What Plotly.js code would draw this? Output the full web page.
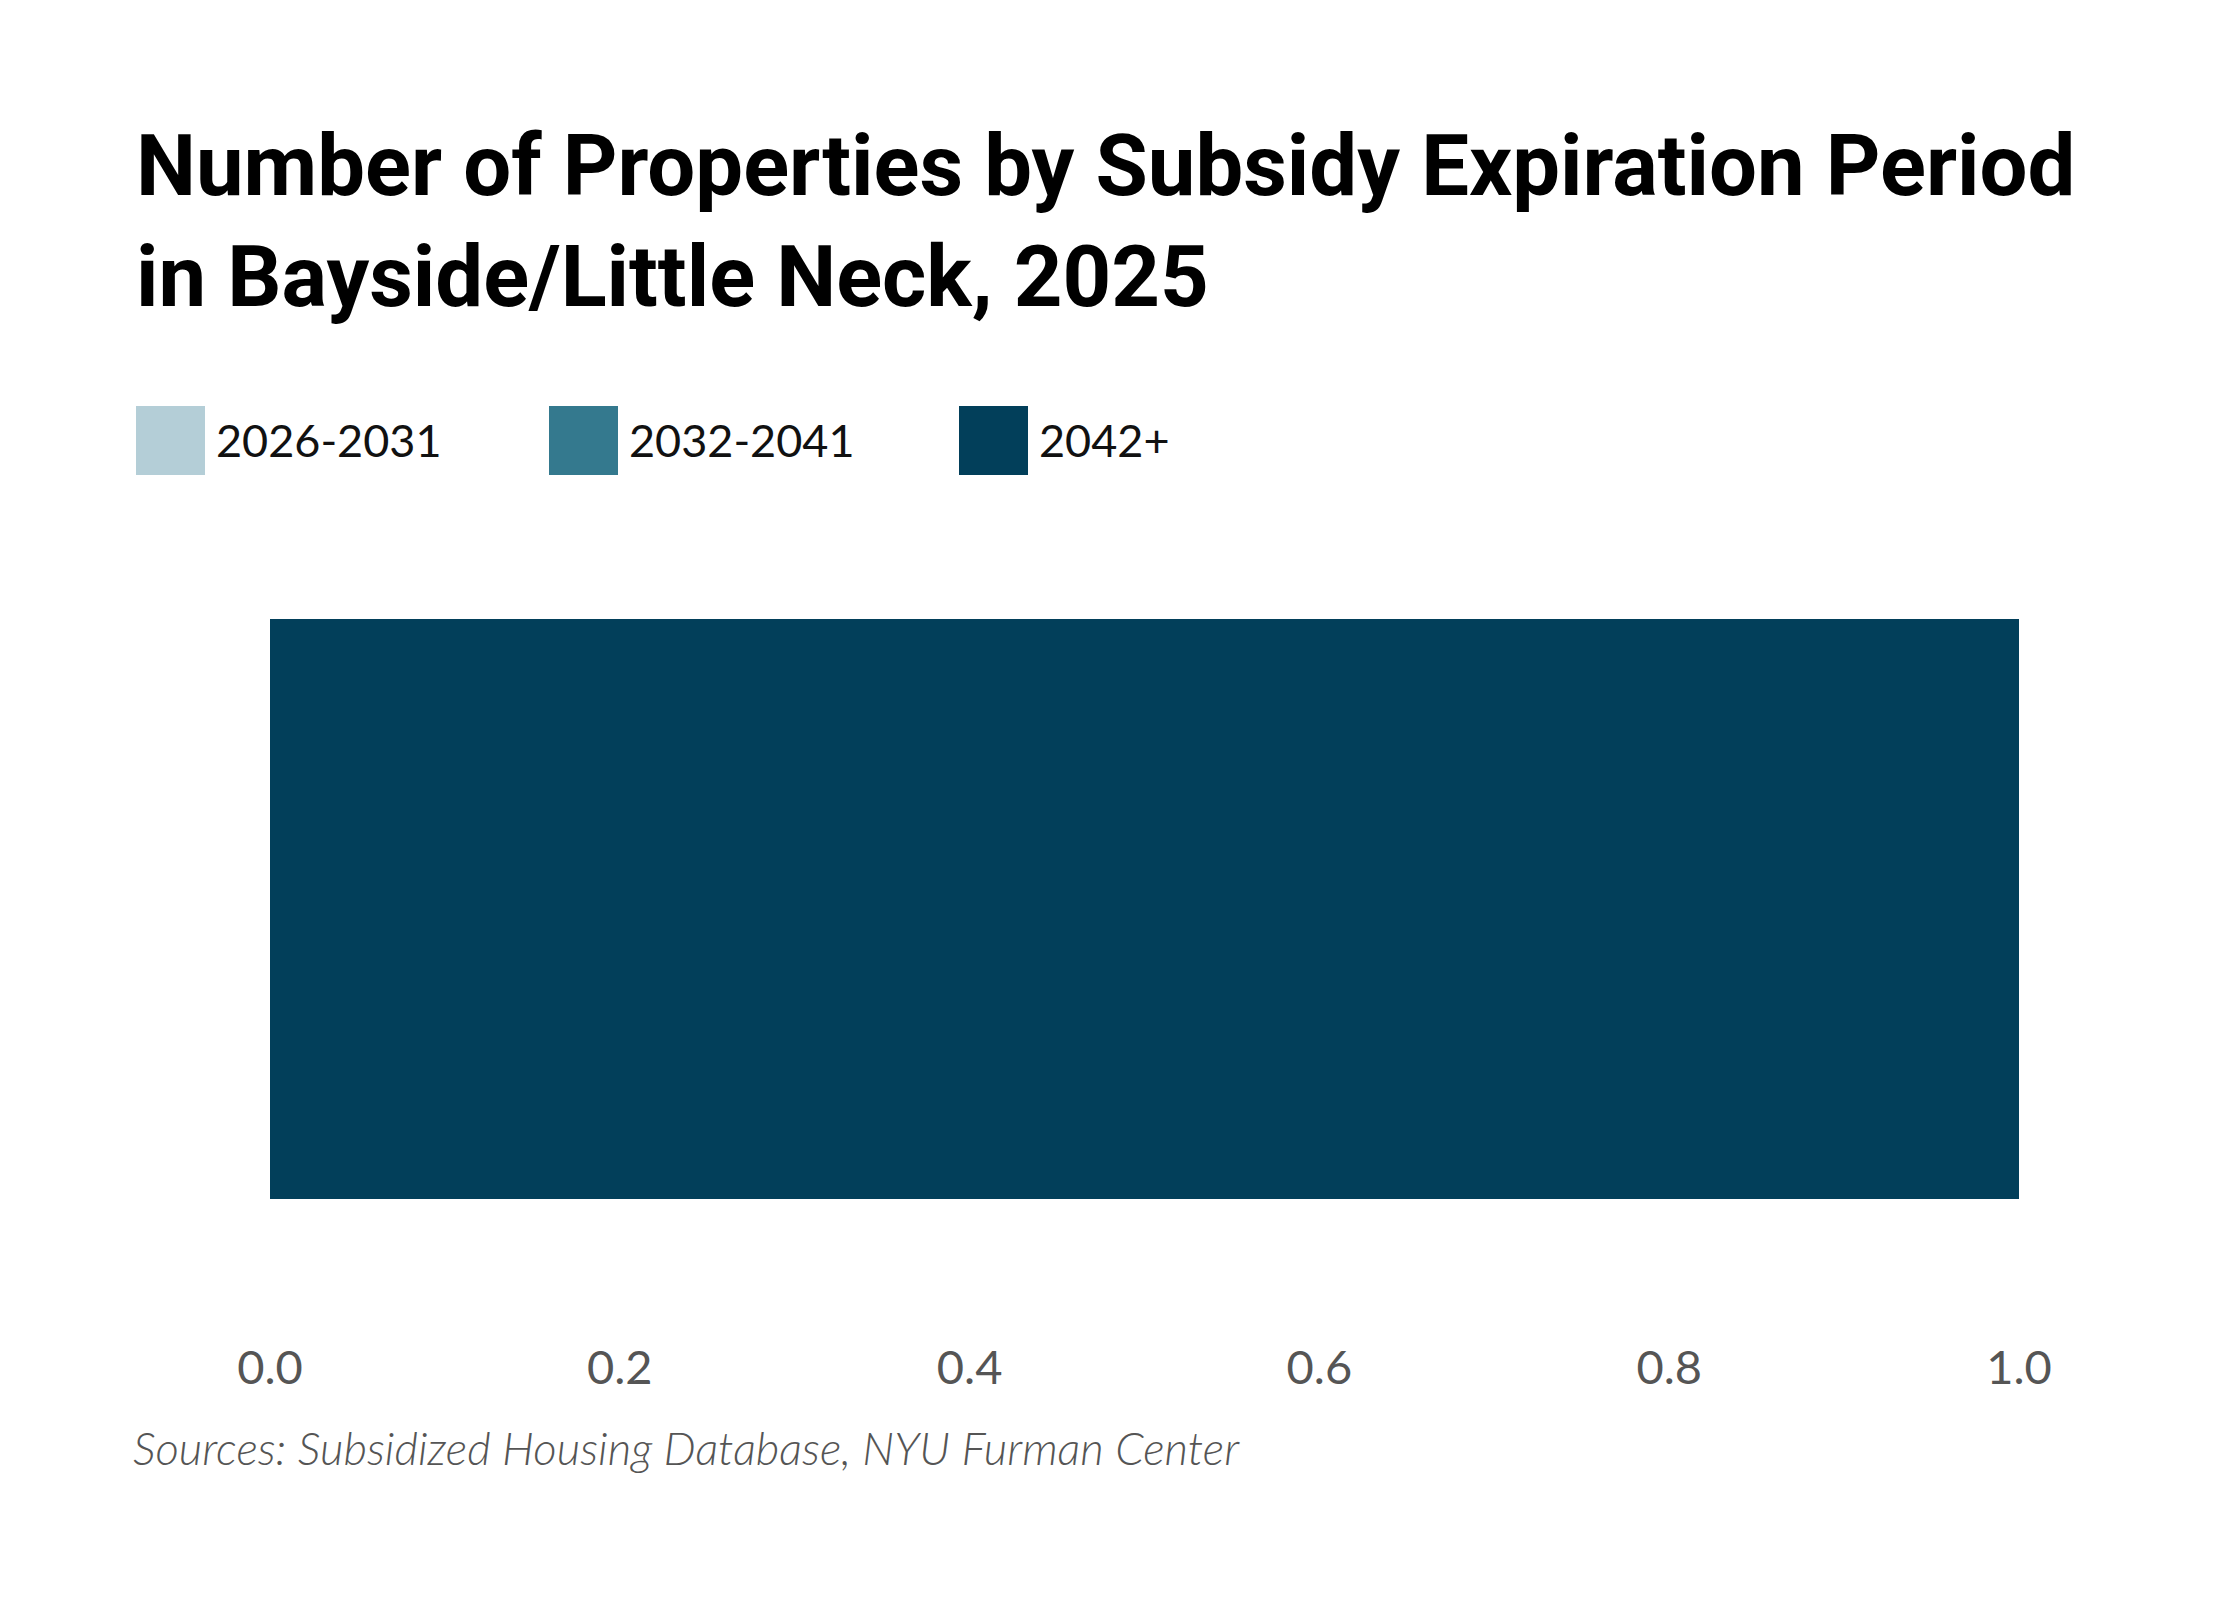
<!DOCTYPE html>
<html>
<head>
<meta charset="utf-8">
<script src="https://cdn.plot.ly/plotly-3.0.1.min.js"></script>
<style>html,body{margin:0;padding:0;background:#fff;}#chart{width:2240px;height:1600px;}</style>
</head>
<body>
<div id="chart"></div>
<script>
const categories = ['Bayside/Little Neck'];
const seriesNames = ['2026-2031', '2032-2041', '2042+'];
const seriesColors = ['#b4ced7', '#34798e', '#023f5a'];
const values20262031 = [0];
const values20322041 = [0];
const values2042plus = [1];
const xTickVals = [0, 0.2, 0.4, 0.6, 0.8, 1.0];
const xTickText = ['0.0', '0.2', '0.4', '0.6', '0.8', '1.0'];
const titleText = 'Number of Properties by Subsidy Expiration Period<br>in Bayside/Little Neck, 2025';
const sourceText = 'Sources: Subsidized Housing Database, NYU Furman Center';

const seriesValues = [values20262031, values20322041, values2042plus];
const traces = seriesNames.map((name, i) => ({
  type: 'bar',
  orientation: 'h',
  name: name,
  y: categories,
  x: seriesValues[i],
  marker: {color: seriesColors[i], line: {width: 0}},
  hoverinfo: 'x+name'
}));

const W = 2240, H = 1600;
const legendX = [136, 549, 959];
const shapes = [];
const annotations = [];
seriesNames.forEach((name, i) => {
  shapes.push({
    type: 'rect', xref: 'paper', yref: 'paper', layer: 'above',
    x0: 0, x1: 0, y0: 0, y1: 0, line: {width: 0}, fillcolor: seriesColors[i],
    _px: legendX[i]
  });
  annotations.push({
    xref: 'paper', yref: 'paper', x: 0, y: 0, xanchor: 'left', yanchor: 'middle',
    showarrow: false, text: name,
    font: {family: 'Lato, "Open Sans", sans-serif', size: 45, color: '#111'},
    _px: legendX[i] + 78
  });
});

const margin = {l: 270, r: 221, t: 546, b: 329};
const plotW = W - margin.l - margin.r;
const plotH = H - margin.t - margin.b;
const toPX = px => (px - margin.l) / plotW;
const toPY = py => (H - margin.b - py) / plotH;
shapes.forEach(s => {
  s.x0 = toPX(s._px); s.x1 = toPX(s._px + 69);
  s.y0 = toPY(475); s.y1 = toPY(406);
  delete s._px;
});
annotations.forEach(a => {
  a.x = toPX(a._px); a.y = toPY(440);
  delete a._px;
});
annotations.push({
  xref: 'paper', yref: 'paper', x: toPX(131), y: toPY(1447), xanchor: 'left', yanchor: 'middle',
  showarrow: false, text: '<i>' + sourceText + '</i>',
  font: {family: 'Lato, "Open Sans", sans-serif', size: 45.5, color: '#555', weight: 300}
});

const layout = {
  width: W, height: H,
  margin: margin,
  paper_bgcolor: '#fff', plot_bgcolor: '#fff',
  barmode: 'stack',
  bargap: 0.2,
  showlegend: false,
  title: {
    text: titleText,
    x: 136 / W, xanchor: 'left', xref: 'container',
    y: 1 - 195 / H, yanchor: 'top', yref: 'container',
    font: {family: 'Roboto, sans-serif', size: 85, color: '#000', weight: 700}
  },
  xaxis: {
    range: [0, 1],
    tickvals: xTickVals, ticktext: xTickText,
    showgrid: false, zeroline: false, showline: false,
    ticks: '', ticklabelstandoff: 65,
    tickfont: {family: 'Lato, "Open Sans", sans-serif', size: 47, color: '#555'}
  },
  yaxis: {
    showticklabels: false, showgrid: false, zeroline: false, showline: false, ticks: ''
  },
  shapes: shapes,
  annotations: annotations
};

Plotly.newPlot('chart', traces, layout, {displayModeBar: false, staticPlot: true});
</script>
</body>
</html>
